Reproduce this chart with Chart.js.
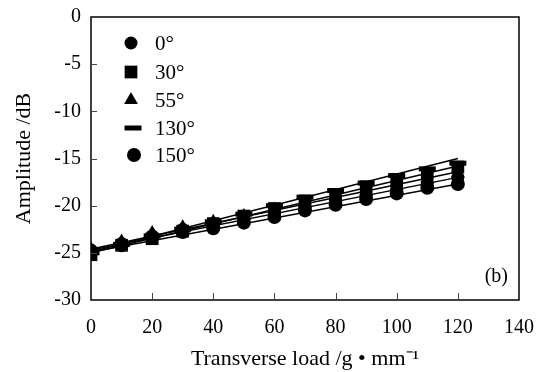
<!DOCTYPE html>
<html>
<head>
<meta charset="utf-8">
<script src="https://cdn.jsdelivr.net/npm/chart.js@4.4.0/dist/chart.umd.min.js"></script>
<style>
  html, body { margin: 0; padding: 0; background: #fff; }
  #wrap { width: 542px; height: 372px; }
</style>
</head>
<body>
<div id="wrap"><canvas id="graficoAmplitude"></canvas></div>
<script>
// carga transversal (g/mm)
const cargas = [0, 10, 20, 30, 40, 50, 60, 70, 80, 90, 100, 110, 120];
const angulos = ['0°', '30°', '55°', '130°', '150°'];

// amplitude (dB)
const amp0   = [-24.7, -24.0, -23.2, -22.5, -21.9, -21.3, -20.7, -20.1, -19.4, -18.9, -18.2, -17.6, -17.0];
const amp30  = [-25.2, -24.2, -23.5, -22.7, -21.9, -21.1, -20.3, -19.5, -18.8, -18.0, -17.3, -16.6, -15.9];
const amp55  = [-24.6, -23.8, -22.9, -22.3, -21.7, -21.1, -20.4, -19.8, -19.1, -18.5, -17.9, -17.2, -16.6];
const amp130 = [-25.0, -24.1, -23.2, -22.5, -21.7, -20.9, -20.0, -19.1, -18.4, -17.6, -16.8, -16.1, -15.5];
const amp150 = [-24.8, -24.2, -23.4, -22.8, -22.4, -21.8, -21.2, -20.5, -19.9, -19.3, -18.7, -18.1, -17.7];

// retas de tendência (valor em x=0 e x=120)
const ajusteX = [0, 120];
const ajusteInicio = [-24.7, -25.0, -24.6, -24.9, -24.9];
const ajusteFim    = [-17.0, -15.8, -16.4, -15.0, -17.7];

const yTicks = [0, -5, -10, -15, -20, -25, -30];
const xTicks = [0, 20, 40, 60, 80, 100, 120, 140];
const rotuloPainel = '(b)';

const valores = [amp0, amp30, amp55, amp130, amp150];
const estilos = ['circle', 'rect', 'triangle', 'line', 'circle'];
const raios = [6.5, 9, 8, 8.5, 7];
const bordas = [0, 0, 0, 5, 0];

const FONTE = "'Liberation Serif', 'Times New Roman', serif";

const datasets = [];
valores.forEach((serie, i) => {
    datasets.push({
        label: angulos[i],
        data: cargas.map((x, k) => ({ x: x, y: serie[k] })),
        showLine: false,
        pointStyle: estilos[i],
        pointRadius: raios[i],
        pointBackgroundColor: '#000',
        pointBorderColor: '#000',
        pointBorderWidth: bordas[i]
    });
});
valores.forEach((serie, i) => {
    datasets.push({
        label: 'ajuste ' + angulos[i],
        data: ajusteX.map((x, k) => ({ x: x, y: k === 0 ? ajusteInicio[i] : ajusteFim[i] })),
        showLine: true,
        borderColor: '#000',
        borderWidth: 1.5,
        pointRadius: 0,
        fill: false
    });
});

// moldura + ticks para dentro + rótulo (b)
const molduraPlugin = {
    id: 'moldura',
    afterDatasetsDraw(chart) {
        const { ctx, chartArea: a, scales } = chart;
        ctx.save();
        ctx.strokeStyle = '#000';
        ctx.lineWidth = 1.5;
        ctx.strokeRect(a.left, a.top, a.right - a.left, a.bottom - a.top);
        ctx.lineWidth = 1;
        ctx.strokeStyle = '#444';
        ctx.beginPath();
        xTicks.slice(1, -1).forEach(v => {
            const px = Math.round(scales.x.getPixelForValue(v)) + 0.5;
            ctx.moveTo(px, a.bottom);
            ctx.lineTo(px, a.bottom - 7);
        });
        yTicks.slice(1, -1).forEach(v => {
            const py = Math.round(scales.y.getPixelForValue(v)) + 0.5;
            ctx.moveTo(a.left, py);
            ctx.lineTo(a.left + 6, py);
        });
        ctx.stroke();
        ctx.fillStyle = '#000';
        ctx.font = "20px " + FONTE;
        ctx.textAlign = 'right';
        ctx.textBaseline = 'middle';
        ctx.fillText(rotuloPainel, a.right - 11, a.bottom - 23);
        ctx.restore();
    }
};

// legenda dentro da área do gráfico
const legendaPlugin = {
    id: 'legendaInterna',
    afterDraw(chart) {
        const { ctx } = chart;
        const linhas = [43, 72, 100, 128, 155];
        const marcX = [131, 131, 131, 133, 134];
        ctx.save();
        ctx.fillStyle = '#000';
        ctx.strokeStyle = '#000';
        ctx.font = "21px " + FONTE;
        ctx.textBaseline = 'middle';
        angulos.forEach((txt, i) => {
            const opts = { pointStyle: estilos[i], radius: raios[i], rotation: 0, borderWidth: bordas[i] };
            ctx.lineWidth = bordas[i];
            Chart.helpers.drawPoint(ctx, opts, marcX[i], linhas[i]);
            ctx.fillText(txt, 155, linhas[i] + 1);
        });
        ctx.restore();
    }
};

const ctx = document.getElementById('graficoAmplitude').getContext('2d');
window.graficoAmplitudeChart = new Chart(ctx, {
    type: 'scatter',
    data: { datasets: datasets },
    options: {
        responsive: true,
        maintainAspectRatio: false,
        animation: false,
        layout: { padding: { top: 17, right: 23, left: 0, bottom: 0 } },
        plugins: {
            legend: { display: false },
            tooltip: { enabled: false }
        },
        scales: {
            x: {
                type: 'linear',
                min: 0,
                max: 140,
                afterBuildTicks: s => { s.ticks = xTicks.map(v => ({ value: v })); },
                afterFit: s => { s.height = 72; s.paddingLeft = 0; s.paddingRight = 0; },
                grid: { display: false, drawTicks: false },
                border: { display: false },
                ticks: { color: '#000', padding: 16, font: { family: FONTE, size: 20 } },
                title: {
                    display: true,
                    text: 'Transverse load /g • mm⁻¹',
                    color: '#000',
                    padding: { top: 0, bottom: 0 },
                    font: { family: FONTE, size: 22 }
                }
            },
            y: {
                type: 'linear',
                min: -30,
                max: 0,
                afterBuildTicks: s => { s.ticks = yTicks.map(v => ({ value: v })); },
                afterFit: s => { s.width = 91; s.paddingTop = 0; s.paddingBottom = 0; },
                grid: { display: false, drawTicks: false },
                border: { display: false },
                ticks: { color: '#000', padding: 10, font: { family: FONTE, size: 20 } },
                title: {
                    display: true,
                    text: 'Amplitude /dB',
                    color: '#000',
                    padding: { top: 11, bottom: 0 },
                    font: { family: FONTE, size: 22 }
                }
            }
        }
    },
    plugins: [molduraPlugin, legendaPlugin]
});
</script>
</body>
</html>
